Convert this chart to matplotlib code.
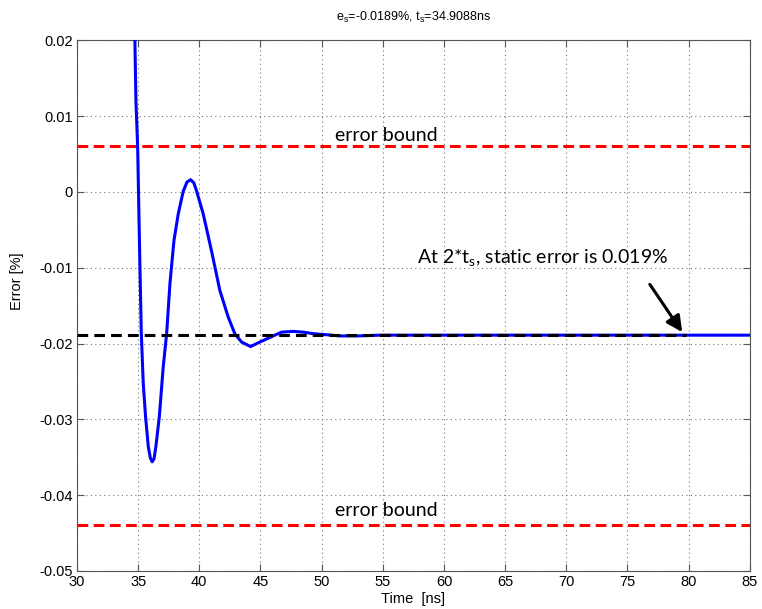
import matplotlib

matplotlib.use("Agg")
import matplotlib.pyplot as plt  # noqa: E402

plt.rcParams["font.family"] = ["Liberation Sans", "DejaVu Sans"]
plt.rcParams["mathtext.default"] = "regular"

# settling response (time in ns, error in %)
t_ns = [34.70, 34.74, 34.82, 34.96, 35.07, 35.15, 35.26, 35.42, 35.61, 35.83,
        36.00, 36.15, 36.30, 36.45, 36.73, 37.05, 37.33, 37.60, 37.93, 38.28,
        38.69, 39.00, 39.29, 39.55, 39.78, 40.32, 41.00, 41.68, 42.36, 42.90,
        43.45, 44.19, 44.95, 45.77, 46.72, 47.67, 48.50, 49.30, 50.10, 51.50,
        53.00, 54.75, 60.0, 70.0, 80.0, 85.0]
err_pct = [0.0240, 0.0196, 0.0120, 0.0060, -0.0034, -0.0100, -0.0187, -0.0253, -0.0297, -0.0336,
           -0.0351, -0.0356, -0.0352, -0.0336, -0.0297, -0.0231, -0.0187, -0.0121, -0.0064, -0.0029,
           0.0001, 0.0013, 0.0016, 0.0012, 0.0001, -0.0029, -0.0078, -0.0130, -0.0165, -0.0187,
           -0.0198, -0.0204, -0.0198, -0.0192, -0.0185, -0.0184, -0.0185, -0.0187, -0.0188, -0.0190,
           -0.0190, -0.0189, -0.0189, -0.0189, -0.0189, -0.0189]

static_err = -0.0189
t_settle = 34.9088
bounds = [0.0061, -0.0439]
x_ticks = list(range(30, 90, 5))
y_ticks = [0.02, 0.01, 0, -0.01, -0.02, -0.03, -0.04, -0.05]
y_tick_labels = ["0.02", "0.01", "0", "-0.01", "-0.02", "-0.03", "-0.04", "-0.05"]

fig = plt.figure(figsize=(7.62, 6.09), dpi=100)
ax = fig.add_axes([0.101, 0.0624, 0.883, 0.8716])

ax.plot(t_ns, err_pct, color="#0000ff", lw=2.2, zorder=3)
# static error reference, drawn over the settled trace up to the arrow
ax.plot([30, 79.8], [static_err, static_err], color="k", ls=(0, (3.5, 2)), lw=2.2, zorder=4)
for b in bounds:
    ax.axhline(b, color="#ff0000", ls=(0, (3.5, 1.8)), lw=2.2, zorder=2)

ax.set_xlim(30, 85)
ax.set_ylim(-0.05, 0.02)
ax.set_xticks(x_ticks)
ax.set_yticks(y_ticks)
ax.set_yticklabels(y_tick_labels)
ax.tick_params(direction="in", length=5, top=True, right=True, labelsize=10.5,
               color="#555555", pad=3)
for s in ax.spines.values():
    s.set_color("#555555")
ax.grid(True, ls=(0, (1, 3)), color="#777777", lw=0.8)

ax.set_title(r"e$_s$=%.4f%%, t$_s$=%.4fns" % (static_err, t_settle), fontsize=9, pad=14)
ax.set_xlabel("Time  [ns]", fontsize=10.5, labelpad=2)
ax.set_ylabel("Error [%]", fontsize=10.5)
ax.yaxis.set_label_coords(-0.078, 0.545)

ann_font = ["Lato", "DejaVu Sans"]
ax.text(55.3, 0.0074, "error bound", ha="center", va="center", fontsize=14, family=ann_font)
ax.text(55.3, -0.0420, "error bound", ha="center", va="center", fontsize=14, family=ann_font)
ax.text(57.8, -0.0087, r"At 2*t$_s$, static error is 0.019%", ha="left", va="center",
        fontsize=14, family=ann_font)
ax.annotate("", xy=(79.6, -0.0188), xytext=(76.7, -0.0119),
            arrowprops=dict(arrowstyle="-|>", lw=2.2, color="k", mutation_scale=24))

fig.savefig("out.png", dpi=100)
